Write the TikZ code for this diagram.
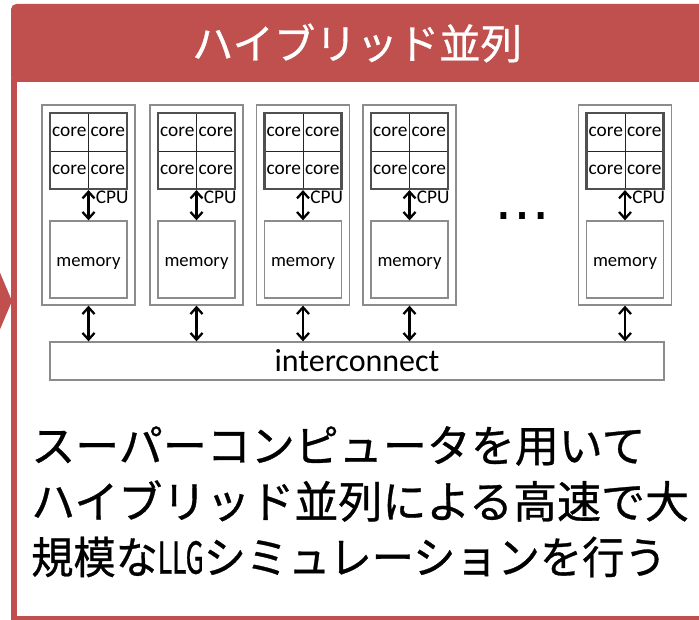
\documentclass[tikz,border=0pt]{standalone}
\usepackage{fontspec}
\setmainfont{Carlito}
\newfontfamily\jpfont[FakeBold=0.7]{Noto Sans CJK JP}
\newfontfamily\jpnarrow[FakeBold=0.7,FakeStretch=0.62]{Noto Sans CJK JP}
\newfontfamily\dotfont{DejaVu Sans}
\usetikzlibrary{arrows.meta}
\definecolor{framered}{HTML}{C0504D}
\definecolor{boxgray}{HTML}{8C8C8C}
\definecolor{gridgray}{HTML}{505050}
\tikzset{
  nodebox/.style={draw=boxgray, line width=1pt, minimum width=69.75pt, minimum height=150pt, inner sep=0pt},
  cpubox/.style={draw=gridgray, line width=1.6pt, minimum width=57.75pt, minimum height=57pt, inner sep=0pt},
  corecell/.style={draw=black!85, line width=0.6pt, minimum width=28.875pt, minimum height=28.5pt, inner sep=0pt, font=\fontsize{14.5}{16}\selectfont},
  membox/.style={draw=boxgray, line width=1pt, minimum width=57.75pt, minimum height=57.75pt, inner sep=0pt, text height=10.2pt, text depth=0pt, font=\fontsize{14}{16}\selectfont},
  cpulabel/.style={anchor=west, inner sep=0pt, font=\fontsize{14.5}{16}\selectfont},
  icbox/.style={draw=boxgray, line width=1pt, minimum width=460.5pt, minimum height=28.5pt, inner sep=0pt, font=\fontsize{24}{27}\selectfont},
  dblarrow/.style={{Straight Barb[length=5pt,width=9pt]}-{Straight Barb[length=5pt,width=9pt]}, line width=1.7pt, black},
  bigtext/.style={anchor=west, inner sep=0pt, font=\jpfont\fontsize{33}{40}\selectfont},
}
\begin{document}
\begin{tikzpicture}[x=0.75pt,y=-0.75pt]
\useasboundingbox (0,0) rectangle (699,620);
% red frame
\fill[framered, rounded corners=4pt] (11,4) rectangle (780,82);
\fill[framered] (11,78) rectangle (16.5,630);
\fill[framered] (11,616) rectangle (780,630);
\fill[framered] (-2,268) -- (12,301) -- (-2,334) -- cycle;
\node[text=white, inner sep=0pt, font=\jpfont\fontsize{31}{36}\selectfont] (title) at (357,43) {ハイブリッド並列};
% interconnect
\node[icbox] (ic) at (357,361) {interconnect};
% compute nodes
\foreach \cx [count=\i] in {88.5,196.5,303,409.5,625} {
  \node[nodebox] (n\i) at (\cx,205) {};
  \node[corecell] (c\i a) at (\cx-19.25,132) {core};
  \node[corecell] (c\i b) at (\cx+19.25,132) {core};
  \node[corecell] (c\i c) at (\cx-19.25,170) {core};
  \node[corecell] (c\i d) at (\cx+19.25,170) {core};
  \node[cpubox] (cpu\i) at (\cx,151) {};
  \node[membox] (mem\i) at (\cx,259.5) {memory};
  \node[cpulabel] (lab\i) at (\cx+7,197.5) {CPU};
  \draw[dblarrow] (cpu\i.south) -- (mem\i.north);
  \draw[dblarrow] (n\i.south) -- (n\i.south |- ic.north);
}
\node[inner sep=0pt, font=\dotfont\fontsize{42}{42}\selectfont] (dots) at (522,216) {…};
% bottom text
\node[bigtext] (t1) at (31,446) {スーパーコンピュータを用いて};
\node[bigtext] (t2) at (31,501) {ハイブリッド並列による高速で大};
\node[bigtext, xscale=0.96, transform shape] (t3) at (31,557) {規模な{\jpnarrow LLG}シミュレーションを行う};
\end{tikzpicture}
\end{document}
